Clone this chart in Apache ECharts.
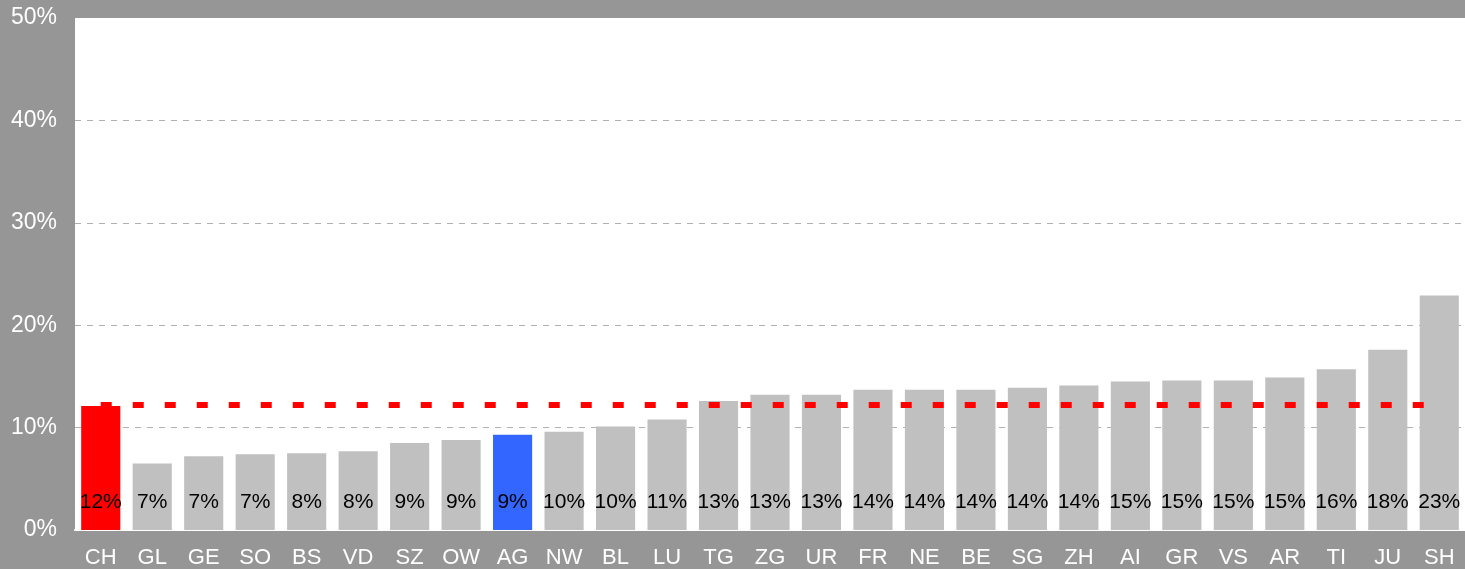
<!DOCTYPE html>
<html><head><meta charset="utf-8">
<script src="https://cdn.jsdelivr.net/npm/echarts@6/dist/echarts.min.js"></script>
<style>html,body{margin:0;padding:0;background:#969696;}#c{width:1465px;height:569px;}</style>
</head><body><div id="c"></div>
<script>
const categories = ['CH','GL','GE','SO','BS','VD','SZ','OW','AG','NW','BL','LU','TG','ZG','UR','FR','NE','BE','SG','ZH','AI','GR','VS','AR','TI','JU','SH'];
const values = [12.1,6.5,7.2,7.4,7.5,7.7,8.5,8.8,9.3,9.6,10.1,10.8,12.6,13.2,13.2,13.7,13.7,13.7,13.9,14.1,14.5,14.6,14.6,14.9,15.7,17.6,22.9];
const meanValue = 12.2;
const highlight = {CH:'#ff0000', AG:'#3366ff'};

const chart = echarts.init(document.getElementById('c'));
chart.setOption({
  backgroundColor:'#969696',
  animation:false,
  grid:{left:75,right:0,top:18,bottom:38,show:true,backgroundColor:'#ffffff',borderWidth:0},
  xAxis:{type:'category',data:categories,
    axisLine:{show:true,lineStyle:{color:'#ffffff',width:2}},
    axisTick:{show:false},
    axisLabel:{color:'#ffffff',fontSize:22,fontFamily:'Liberation Sans, Arial',margin:17}},
  yAxis:{type:'value',min:0,max:50,interval:10,
    axisLine:{show:false},axisTick:{show:false},
    axisLabel:{color:'#ffffff',fontSize:23,fontFamily:'Liberation Sans, Arial',margin:18,formatter:v=>v+'%'},
    splitLine:{showMaxLine:false,showMinLine:false,lineStyle:{color:'#b0b0b0',type:[6,6],width:1}}},
  series:[
    {type:'bar',data:values.map((v,i)=>({value:v,itemStyle:{color:highlight[categories[i]]||'#c0c0c0'}})),
     barCategoryGap:'24%',
     label:{show:true,position:'insideBottom',distance:17,color:'#000000',fontSize:21,fontFamily:'Liberation Sans, Arial',
       formatter:p=>Math.round(p.value)+'%'},
     z:2},
    {type:'line',data:categories.map(()=>meanValue),symbol:'none',
     lineStyle:{color:'#ff0000',width:6,type:[11,21]},z:3}
  ]
});
</script></body></html>
